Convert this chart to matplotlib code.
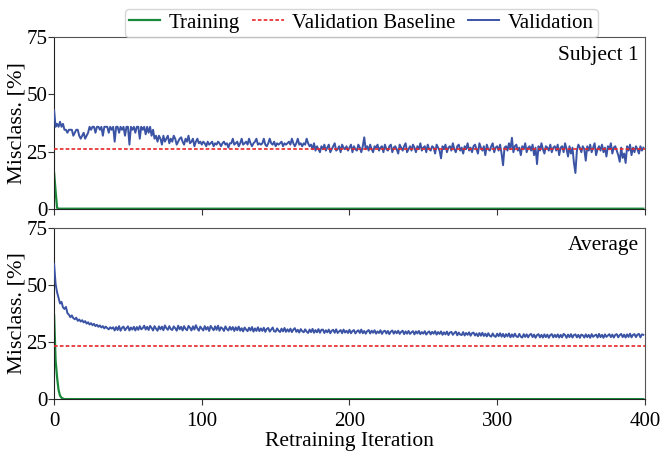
import numpy as np
import matplotlib
matplotlib.use('Agg')
import matplotlib.pyplot as plt

plt.rcParams['font.family'] = ['Liberation Serif', 'DejaVu Serif']
plt.rcParams['font.size'] = 15.5

# Subject 1 -- validation misclassification per retraining iteration
s1_val = [
    43.0, 35.8, 37.1, 35.8, 38.0, 35.8, 37.1, 34.5, 34.5, 33.2, 34.5, 34.5, 34.5, 31.9, 33.2, 34.5, 34.5, 31.9, 30.6, 31.9,
    33.2, 30.6, 31.9, 33.2, 35.8, 34.5, 35.8, 35.8, 33.2, 35.8, 35.8, 34.5, 35.8, 31.9, 35.8, 35.8, 35.8, 33.2, 35.8, 34.5,
    35.8, 29.3, 35.8, 35.8, 33.2, 35.8, 34.5, 35.8, 31.9, 35.8, 35.8, 28.0, 35.8, 34.5, 35.8, 33.2, 35.8, 35.8, 30.6, 35.8,
    34.5, 35.8, 32.5, 35.8, 33.2, 35.8, 31.9, 34.5, 30.6, 31.9, 29.3, 31.9, 30.6, 28.0, 31.9, 29.3, 30.6, 31.9, 28.6, 30.6,
    29.3, 31.9, 30.6, 28.0, 29.3, 30.6, 31.2, 29.3, 28.0, 30.6, 29.3, 31.9, 28.6, 29.3, 30.6, 27.3, 29.3, 30.6, 28.6, 29.3,
    28.0, 29.3, 28.6, 27.3, 29.3, 28.0, 28.6, 29.3, 27.3, 28.6, 28.0, 29.3, 28.6, 27.3, 28.6, 29.3, 28.0, 28.6, 26.7, 28.6,
    28.6, 30.6, 28.0, 28.6, 29.3, 27.3, 28.6, 30.6, 28.0, 28.6, 29.3, 28.0, 30.6, 28.6, 27.3, 28.6, 29.3, 30.6, 28.0, 28.6,
    28.0, 28.6, 30.6, 28.0, 27.3, 28.6, 30.6, 28.6, 28.0, 29.3, 27.3, 28.6, 28.0, 28.6, 29.3, 27.3, 28.6, 28.0, 28.6, 29.3,
    28.0, 30.6, 28.6, 27.3, 28.6, 30.6, 28.0, 28.6, 27.3, 28.6, 28.0, 30.6, 28.6, 27.3, 28.0, 26.0, 28.6, 25.4, 27.3, 26.0,
    24.7, 27.3, 26.0, 28.0, 25.4, 26.7, 28.0, 24.7, 26.0, 27.3, 28.6, 25.4, 26.0, 27.3, 24.7, 28.0, 26.7, 26.0, 27.3, 25.4,
    26.7, 28.0, 24.7, 27.3, 26.0, 25.4, 28.0, 26.7, 24.7, 27.3, 31.2, 26.0, 27.3, 25.4, 28.0, 26.0, 24.7, 27.3, 26.7, 28.0,
    25.4, 26.7, 27.3, 24.7, 28.0, 26.0, 25.4, 27.3, 28.0, 24.7, 26.7, 27.3, 26.0, 24.1, 28.0, 26.7, 25.4, 27.3, 28.6, 24.7,
    26.0, 27.3, 25.4, 28.0, 26.7, 24.7, 27.3, 26.0, 28.6, 25.4, 26.7, 27.3, 24.7, 28.0, 26.0, 25.4, 27.3, 26.7, 24.1, 28.0,
    26.7, 25.4, 22.0, 27.3, 26.0, 28.0, 24.7, 26.7, 27.3, 25.4, 28.6, 26.0, 24.7, 27.3, 28.0, 25.4, 26.7, 24.1, 27.3, 26.0,
    28.6, 25.4, 26.7, 24.7, 27.3, 28.0, 26.0, 24.1, 28.6, 26.7, 25.4, 27.3, 23.4, 28.0, 26.0, 25.4, 27.3, 28.6, 24.7, 26.7,
    27.3, 25.4, 28.0, 24.1, 19.0, 26.7, 27.3, 25.4, 28.6, 26.0, 31.0, 24.7, 27.3, 28.0, 25.4, 26.7, 23.4, 27.3, 26.0, 28.6,
    24.7, 26.7, 27.3, 25.4, 28.0, 23.4, 26.7, 19.5, 27.3, 25.4, 28.6, 26.0, 24.1, 27.3, 26.7, 25.4, 28.0, 24.7, 26.7, 27.3,
    25.4, 28.0, 23.4, 26.7, 27.3, 24.7, 28.6, 26.0, 22.8, 27.3, 24.1, 26.7, 20.0, 15.6, 25.4, 28.0, 26.7, 24.7, 27.3, 26.0,
    21.0, 27.3, 25.4, 28.0, 24.7, 26.7, 28.6, 23.4, 26.0, 27.3, 25.4, 28.0, 24.7, 26.7, 22.8, 27.3, 26.0, 28.6, 24.1, 26.7,
    27.3, 25.4, 23.4, 20.5, 26.7, 22.2, 24.1, 20.0, 27.3, 25.4, 28.0, 23.4, 26.7, 24.7, 27.3, 26.0, 24.1, 27.3, 25.4, 26.7,
]
s1_train = [15.6, 7.7, 0.4] + [0.0] * 397
s1_base = 26.0

# Average over subjects
avg_val = [
    59.0, 50.4, 46.7, 44.2, 41.8, 42.5, 40.1, 39.4, 40.3, 37.6, 36.9, 35.8, 36.6, 35.4, 34.9, 35.6, 34.2, 34.8, 33.9, 34.5,
    33.5, 34.1, 33.0, 33.6, 32.6, 33.2, 32.3, 32.9, 31.9, 32.5, 31.6, 32.2, 31.3, 31.9, 30.9, 31.7, 31.0, 30.5, 31.4, 30.8,
    31.4, 30.0, 31.5, 30.2, 31.9, 29.9, 31.2, 31.7, 30.1, 31.0, 31.8, 30.0, 31.3, 30.4, 31.6, 30.0, 31.5, 30.3, 31.9, 30.5,
    31.0, 32.1, 30.4, 31.6, 30.2, 32.0, 31.1, 30.0, 31.9, 30.8, 29.9, 31.8, 30.5, 31.7, 30.1, 32.2, 31.0, 30.3, 31.9, 30.6,
    30.2, 31.8, 31.0, 29.9, 32.1, 30.5, 31.6, 30.0, 31.9, 30.7, 30.1, 32.0, 31.2, 30.0, 31.8, 30.4, 32.3, 30.9, 29.9, 31.7,
    30.8, 30.0, 31.9, 30.4, 31.5, 29.8, 32.0, 31.0, 30.1, 31.8, 30.3, 32.1, 29.9, 31.4, 30.9, 29.8, 31.8, 30.6, 30.0, 31.6,
    30.3, 31.5, 29.8, 31.4, 30.1, 31.7, 29.9, 31.0, 29.6, 31.3, 30.4, 29.7, 31.2, 30.0, 31.5, 29.5, 30.9, 29.8, 31.4, 29.7,
    30.9, 29.8, 31.2, 29.4, 30.7, 31.1, 29.5, 30.4, 31.3, 29.6, 29.5, 30.9, 29.9, 29.3, 30.8, 29.6, 31.1, 29.4, 30.5, 29.5,
    30.8, 29.3, 30.4, 31.0, 29.4, 30.3, 29.1, 30.6, 29.7, 29.2, 30.5, 29.5, 28.9, 30.4, 29.3, 30.7, 29.0, 30.2, 29.2, 30.6,
    29.0, 30.3, 30.4, 28.9, 30.1, 29.2, 30.4, 28.8, 29.9, 30.3, 29.0, 30.5, 28.9, 29.6, 30.2, 28.8, 30.4, 29.1, 29.9, 28.9,
    30.3, 28.8, 29.7, 30.2, 28.7, 29.6, 30.1, 28.9, 30.4, 28.8, 29.8, 28.6, 29.7, 30.2, 28.7, 29.9, 29.0, 30.1, 28.6, 29.6,
    28.9, 30.1, 28.5, 29.6, 29.9, 28.7, 29.8, 28.4, 29.5, 30.0, 28.6, 29.7, 28.8, 29.9, 28.5, 29.4, 29.9, 28.4, 29.6, 28.6,
    29.8, 28.5, 29.2, 29.7, 28.3, 29.6, 28.7, 29.8, 28.4, 29.3, 28.6, 29.7, 28.2, 29.1, 29.6, 28.3, 29.4, 28.6, 29.7, 28.2,
    29.3, 28.5, 29.6, 28.1, 29.2, 28.3, 29.5, 28.0, 29.1, 29.4, 28.1, 28.9, 29.5, 27.9, 29.1, 28.2, 28.0, 29.3, 27.8, 28.9,
    28.1, 29.2, 27.7, 28.8, 29.1, 27.8, 28.7, 27.5, 28.9, 27.7, 29.0, 27.6, 28.6, 27.4, 28.8, 27.7, 27.3, 28.7, 27.6, 27.2,
    28.6, 27.5, 28.8, 27.3, 28.5, 27.1, 28.4, 27.4, 28.7, 27.0, 28.3, 27.2, 28.6, 27.4, 27.1, 28.5, 27.3, 26.9, 28.4, 27.2,
    28.3, 27.0, 28.1, 28.5, 27.1, 28.2, 26.8, 28.0, 28.4, 27.0, 28.1, 26.9, 28.3, 27.1, 28.2, 26.8, 28.0, 28.4, 27.0, 28.1,
    27.1, 28.3, 26.9, 28.1, 27.0, 28.5, 28.0, 26.8, 28.2, 27.1, 28.4, 26.9, 28.0, 28.3, 27.0, 28.1, 26.8, 28.2, 27.9, 26.9,
    28.3, 27.1, 28.1, 26.8, 28.4, 27.2, 27.8, 28.2, 26.9, 28.5, 27.1, 28.1, 26.8, 28.3, 27.2, 27.8, 28.4, 27.1, 28.2, 26.9,
    28.1, 28.4, 27.0, 28.0, 28.5, 27.1, 28.2, 26.9, 28.3, 27.2, 28.6, 27.0, 28.1, 28.4, 27.1, 28.2, 28.5, 27.0, 28.3, 28.1,
]
avg_train = [36.6, 17.0, 9.5, 4.0, 1.5, 0.6, 0.2] + [0.0] * 393
avg_base = 23.2

panels = [('Subject 1', s1_train, s1_base, s1_val),
          ('Average', avg_train, avg_base, avg_val)]

c_train = '#1a8a3a'
c_base = '#e8262a'
c_val = '#3a53a4'

fig, axes = plt.subplots(2, 1, sharex=True, figsize=(6.6, 4.53), dpi=100)
plt.subplots_adjust(left=0.082, right=0.977, top=0.918, bottom=0.119, hspace=0.11)

for ax, (name, tr, base, val) in zip(axes, panels):
    it = np.arange(len(val))
    ax.plot(np.arange(len(tr)), tr, color=c_train, lw=1.6, label='Training', zorder=2)
    ax.axhline(base, color=c_base, ls='--', lw=1.2, dashes=(2.2, 1.3), label='Validation Baseline', zorder=4)
    ax.plot(it, val, color=c_val, lw=1.4, label='Validation', zorder=3)
    ax.set_xlim(0, 400)
    ax.set_ylim(0, 75)
    ax.set_yticks([0, 25, 50, 75])
    ax.set_ylabel('Misclass. [%]', fontsize=16)
    ax.yaxis.set_label_coords(-0.047, 0.5)
    ax.text(0.99, 0.95, name, ha='right', va='top', transform=ax.transAxes)
    ax.tick_params(direction='out', length=4, width=0.8, color='#333333', pad=1, labelsize=15)
    ax.tick_params(axis='x', pad=5)
    for s in ['left', 'bottom']:
        ax.spines[s].set_color('#222222')
    for s in ['top', 'right']:
        ax.spines[s].set_color('#555555')

axes[1].set_xticks([0, 100, 200, 300, 400])
axes[1].set_xlabel('Retraining Iteration', labelpad=1)

h, l = axes[0].get_legend_handles_labels()
axes[0].legend(h, l, loc='lower center', bbox_to_anchor=(0.52, 0.99), ncol=3, fontsize=15,
               frameon=True, edgecolor='#cccccc', handlelength=1.5, handletextpad=0.4,
               columnspacing=0.6, borderpad=0.2, borderaxespad=0.1, fancybox=True)

plt.savefig('out.png', dpi=100)
